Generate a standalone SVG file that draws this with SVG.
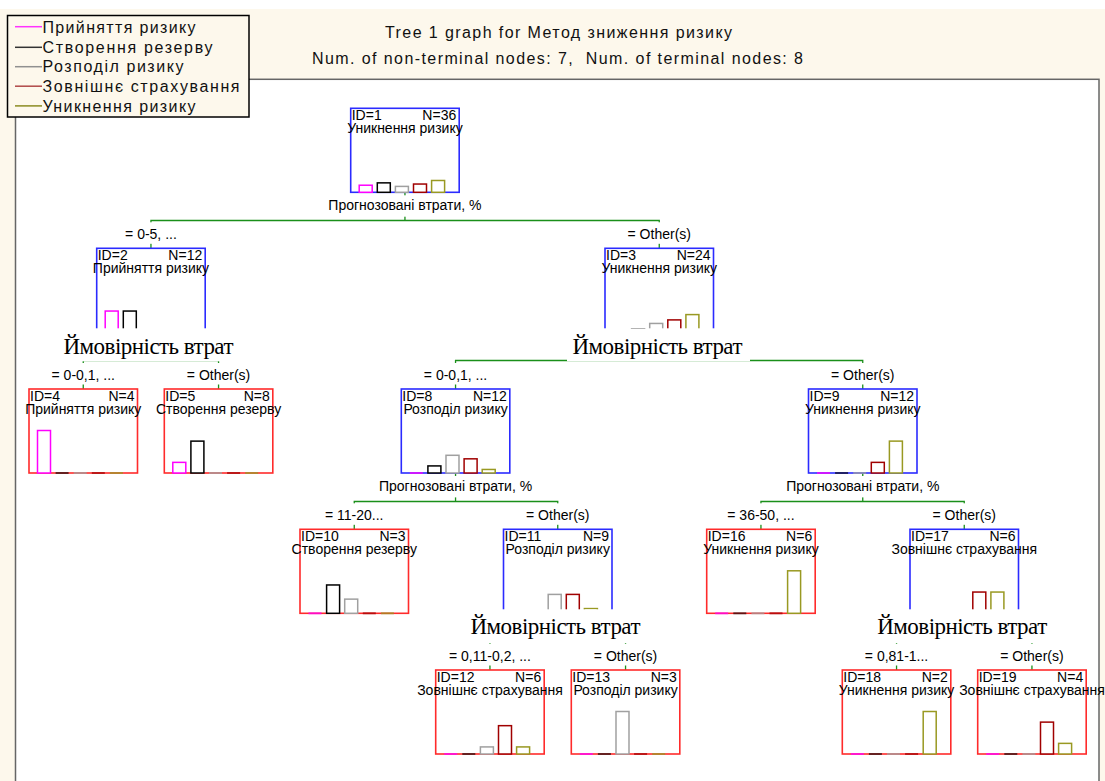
<svg xmlns="http://www.w3.org/2000/svg" width="1105" height="781" viewBox="0 0 1105 781">
<style>
.t{font-family:"Liberation Sans",Arial,sans-serif;font-size:14px;fill:#000}
.hd{font-family:"Liberation Sans",Arial,sans-serif;font-size:16px;fill:#111}
.big{font-family:"Liberation Serif","Times New Roman",serif;font-size:23px;fill:#000}
.nt{fill:#fff;stroke:#2B2BFF;stroke-width:1.6}
.tm{fill:#fff;stroke:#FF2B2B;stroke-width:1.6}
.b0{fill:#fff;stroke:#FF00FF;stroke-width:1.5}
.b1{fill:#fff;stroke:#000;stroke-width:1.5}
.b2{fill:#fff;stroke:#A0A0A0;stroke-width:1.5}
.b3{fill:#fff;stroke:#A00000;stroke-width:1.5}
.b4{fill:#fff;stroke:#999922;stroke-width:1.5}
.z0{stroke:#FF00FF;stroke-width:2;opacity:.7}
.z1{stroke:#000;stroke-width:2;opacity:.6}
.z2{stroke:#A0A0A0;stroke-width:2;opacity:.7}
.z3{stroke:#A00000;stroke-width:2;opacity:.7}
.z4{stroke:#999922;stroke-width:2;opacity:.7}
.conn path{fill:none;stroke:#1A8F1A;stroke-width:1.3}
.bg{fill:#fff}
.mid{text-anchor:middle}
.end{text-anchor:end}
</style>
<rect x="0" y="0" width="1105" height="781" fill="#fff"/>
<rect x="0" y="9" width="1105" height="772" fill="#FDF8EC"/>
<text class="hd mid" x="558.5" y="38.3" textLength="347">Tree 1 graph for Метод зниження ризику</text>
<text class="hd mid" x="557.5" y="63.5" textLength="491">Num. of non-terminal nodes: 7,&#160; Num. of terminal nodes: 8</text>
<rect x="15.5" y="79.3" width="1083.5" height="720" fill="#fff" stroke="#666" stroke-width="1.5"/>

<g id="legend">
<rect x="7.5" y="15.5" width="241.5" height="101.5" fill="#FDF8EC" stroke="#000" stroke-width="1.5"/>
<line x1="15" x2="42" y1="26.7" y2="26.7" stroke="#FF33FF" stroke-width="1.5"/>
<line x1="15" x2="42" y1="47.3" y2="47.3" stroke="#333" stroke-width="1.5"/>
<line x1="15" x2="42" y1="66.7" y2="66.7" stroke="#909090" stroke-width="1.5"/>
<line x1="15" x2="42" y1="86.2" y2="86.2" stroke="#B04848" stroke-width="1.5"/>
<line x1="15" x2="42" y1="105.9" y2="105.9" stroke="#8B8B22" stroke-width="1.5"/>
<text class="hd" x="42.5" y="33" textLength="153">Прийняття ризику</text>
<text class="hd" x="42.5" y="52.7" textLength="170">Створення резерву</text>
<text class="hd" x="42.5" y="72.3" textLength="141">Розподіл ризику</text>
<text class="hd" x="42.5" y="91.9" textLength="197">Зовнішнє страхування</text>
<text class="hd" x="42.5" y="111.5" textLength="153">Уникнення ризику</text>
</g>

<g id="connectors" class="conn">
<path d="M404.95,192.3V220.5M150.95,248.3V220.5H659.25V248.3"/>
<path d="M150.95,332.3V360.5M83.25,389V360.5H218.55V389"/>
<path d="M659.25,332.3V360.5M455.55,389V360.5H862.75V389"/>
<path d="M455.55,473V501.5M354.25,529.3V501.5H557.75V529.3"/>
<path d="M862.75,473V501.5M760.95,529.3V501.5H964.25V529.3"/>
<path d="M557.75,613.3V641.5M489.95,670V641.5H625.55V670"/>
<path d="M964.25,613.3V641.5M896.55,670V641.5H1031.95V670"/>
</g>

<g id="node1" transform="translate(350.7,108.3)">
<rect class="nt" width="108.5" height="84"/>
<text class="t" x="1" y="11.5">ID=1</text><text class="t end" x="105.5" y="11.5">N=36</text>
<text class="t mid" x="54.25" y="24.5">Уникнення ризику</text>
<rect class="b0" x="8.5" y="76.92" width="13" height="7.08"/>
<rect class="b1" x="26.6" y="74.56" width="13" height="9.44"/>
<rect class="b2" x="44.7" y="78.1" width="13" height="5.9"/>
<rect class="b3" x="62.8" y="75.74" width="13" height="8.26"/>
<rect class="b4" x="80.9" y="72.19" width="13" height="11.81"/>
</g>

<g id="node2" transform="translate(96.7,248.3)">
<rect class="nt" width="108.5" height="84"/>
<text class="t" x="1" y="11.5">ID=2</text><text class="t end" x="105.5" y="11.5">N=12</text>
<text class="t mid" x="54.25" y="24.5">Прийняття ризику</text>
<rect class="b0" x="8.5" y="62.75" width="13" height="21.25"/>
<rect class="b1" x="26.6" y="62.75" width="13" height="21.25"/>
<line class="z2" x1="44.7" x2="57.7" y1="84" y2="84"/>
<line class="z3" x1="62.8" x2="75.8" y1="84" y2="84"/>
<line class="z4" x1="80.9" x2="93.9" y1="84" y2="84"/>
</g>

<g id="node3" transform="translate(605,248.3)">
<rect class="nt" width="108.5" height="84"/>
<text class="t" x="1" y="11.5">ID=3</text><text class="t end" x="105.5" y="11.5">N=24</text>
<text class="t mid" x="54.25" y="24.5">Уникнення ризику</text>
<line class="z0" x1="8.5" x2="21.5" y1="84" y2="84"/>
<rect class="b1" x="26.6" y="80.46" width="13" height="3.54"/>
<rect class="b2" x="44.7" y="75.15" width="13" height="8.85"/>
<rect class="b3" x="62.8" y="71.6" width="13" height="12.4"/>
<rect class="b4" x="80.9" y="66.29" width="13" height="17.71"/>
</g>

<g id="node4" transform="translate(29,389)">
<rect class="tm" width="108.5" height="84"/>
<text class="t" x="1" y="11.5">ID=4</text><text class="t end" x="105.5" y="11.5">N=4</text>
<text class="t mid" x="54.25" y="24.5">Прийняття ризику</text>
<rect class="b0" x="8.5" y="41.5" width="13" height="42.5"/>
<line class="z1" x1="26.6" x2="39.6" y1="84" y2="84"/>
<line class="z2" x1="44.7" x2="57.7" y1="84" y2="84"/>
<line class="z3" x1="62.8" x2="75.8" y1="84" y2="84"/>
<line class="z4" x1="80.9" x2="93.9" y1="84" y2="84"/>
</g>

<g id="node5" transform="translate(164.3,389)">
<rect class="tm" width="108.5" height="84"/>
<text class="t" x="1" y="11.5">ID=5</text><text class="t end" x="105.5" y="11.5">N=8</text>
<text class="t mid" x="54.25" y="24.5">Створення резерву</text>
<rect class="b0" x="8.5" y="73.37" width="13" height="10.63"/>
<rect class="b1" x="26.6" y="52.12" width="13" height="31.88"/>
<line class="z2" x1="44.7" x2="57.7" y1="84" y2="84"/>
<line class="z3" x1="62.8" x2="75.8" y1="84" y2="84"/>
<line class="z4" x1="80.9" x2="93.9" y1="84" y2="84"/>
</g>

<g id="node8" transform="translate(401.3,389)">
<rect class="nt" width="108.5" height="84"/>
<text class="t" x="1" y="11.5">ID=8</text><text class="t end" x="105.5" y="11.5">N=12</text>
<text class="t mid" x="54.25" y="24.5">Розподіл ризику</text>
<line class="z0" x1="8.5" x2="21.5" y1="84" y2="84"/>
<rect class="b1" x="26.6" y="76.92" width="13" height="7.08"/>
<rect class="b2" x="44.7" y="66.29" width="13" height="17.71"/>
<rect class="b3" x="62.8" y="69.83" width="13" height="14.17"/>
<rect class="b4" x="80.9" y="80.46" width="13" height="3.54"/>
</g>

<g id="node9" transform="translate(808.5,389)">
<rect class="nt" width="108.5" height="84"/>
<text class="t" x="1" y="11.5">ID=9</text><text class="t end" x="105.5" y="11.5">N=12</text>
<text class="t mid" x="54.25" y="24.5">Уникнення ризику</text>
<line class="z0" x1="8.5" x2="21.5" y1="84" y2="84"/>
<line class="z1" x1="26.6" x2="39.6" y1="84" y2="84"/>
<line class="z2" x1="44.7" x2="57.7" y1="84" y2="84"/>
<rect class="b3" x="62.8" y="73.37" width="13" height="10.63"/>
<rect class="b4" x="80.9" y="52.12" width="13" height="31.88"/>
</g>

<g id="node10" transform="translate(300,529.3)">
<rect class="tm" width="108.5" height="84"/>
<text class="t" x="1" y="11.5">ID=10</text><text class="t end" x="105.5" y="11.5">N=3</text>
<text class="t mid" x="54.25" y="24.5">Створення резерву</text>
<line class="z0" x1="8.5" x2="21.5" y1="84" y2="84"/>
<rect class="b1" x="26.6" y="55.67" width="13" height="28.33"/>
<rect class="b2" x="44.7" y="69.83" width="13" height="14.17"/>
<line class="z3" x1="62.8" x2="75.8" y1="84" y2="84"/>
<line class="z4" x1="80.9" x2="93.9" y1="84" y2="84"/>
</g>

<g id="node11" transform="translate(503.5,529.3)">
<rect class="nt" width="108.5" height="84"/>
<text class="t" x="1" y="11.5">ID=11</text><text class="t end" x="105.5" y="11.5">N=9</text>
<text class="t mid" x="54.25" y="24.5">Розподіл ризику</text>
<line class="z0" x1="8.5" x2="21.5" y1="84" y2="84"/>
<line class="z1" x1="26.6" x2="39.6" y1="84" y2="84"/>
<rect class="b2" x="44.7" y="65.11" width="13" height="18.89"/>
<rect class="b3" x="62.8" y="65.11" width="13" height="18.89"/>
<rect class="b4" x="80.9" y="79.28" width="13" height="4.72"/>
</g>

<g id="node16" transform="translate(706.7,529.3)">
<rect class="tm" width="108.5" height="84"/>
<text class="t" x="1" y="11.5">ID=16</text><text class="t end" x="105.5" y="11.5">N=6</text>
<text class="t mid" x="54.25" y="24.5">Уникнення ризику</text>
<line class="z0" x1="8.5" x2="21.5" y1="84" y2="84"/>
<line class="z1" x1="26.6" x2="39.6" y1="84" y2="84"/>
<line class="z2" x1="44.7" x2="57.7" y1="84" y2="84"/>
<line class="z3" x1="62.8" x2="75.8" y1="84" y2="84"/>
<rect class="b4" x="80.9" y="41.5" width="13" height="42.5"/>
</g>

<g id="node17" transform="translate(910,529.3)">
<rect class="nt" width="108.5" height="84"/>
<text class="t" x="1" y="11.5">ID=17</text><text class="t end" x="105.5" y="11.5">N=6</text>
<text class="t mid" x="54.25" y="24.5">Зовнішнє страхування</text>
<line class="z0" x1="8.5" x2="21.5" y1="84" y2="84"/>
<line class="z1" x1="26.6" x2="39.6" y1="84" y2="84"/>
<line class="z2" x1="44.7" x2="57.7" y1="84" y2="84"/>
<rect class="b3" x="62.8" y="62.75" width="13" height="21.25"/>
<rect class="b4" x="80.9" y="62.75" width="13" height="21.25"/>
</g>

<g id="node12" transform="translate(435.7,670)">
<rect class="tm" width="108.5" height="84"/>
<text class="t" x="1" y="11.5">ID=12</text><text class="t end" x="105.5" y="11.5">N=6</text>
<text class="t mid" x="54.25" y="24.5">Зовнішнє страхування</text>
<line class="z0" x1="8.5" x2="21.5" y1="84" y2="84"/>
<line class="z1" x1="26.6" x2="39.6" y1="84" y2="84"/>
<rect class="b2" x="44.7" y="76.92" width="13" height="7.08"/>
<rect class="b3" x="62.8" y="55.67" width="13" height="28.33"/>
<rect class="b4" x="80.9" y="76.92" width="13" height="7.08"/>
</g>

<g id="node13" transform="translate(571.3,670)">
<rect class="tm" width="108.5" height="84"/>
<text class="t" x="1" y="11.5">ID=13</text><text class="t end" x="105.5" y="11.5">N=3</text>
<text class="t mid" x="54.25" y="24.5">Розподіл ризику</text>
<line class="z0" x1="8.5" x2="21.5" y1="84" y2="84"/>
<line class="z1" x1="26.6" x2="39.6" y1="84" y2="84"/>
<rect class="b2" x="44.7" y="41.5" width="13" height="42.5"/>
<line class="z3" x1="62.8" x2="75.8" y1="84" y2="84"/>
<line class="z4" x1="80.9" x2="93.9" y1="84" y2="84"/>
</g>

<g id="node18" transform="translate(842.3,670)">
<rect class="tm" width="108.5" height="84"/>
<text class="t" x="1" y="11.5">ID=18</text><text class="t end" x="105.5" y="11.5">N=2</text>
<text class="t mid" x="54.25" y="24.5">Уникнення ризику</text>
<line class="z0" x1="8.5" x2="21.5" y1="84" y2="84"/>
<line class="z1" x1="26.6" x2="39.6" y1="84" y2="84"/>
<line class="z2" x1="44.7" x2="57.7" y1="84" y2="84"/>
<line class="z3" x1="62.8" x2="75.8" y1="84" y2="84"/>
<rect class="b4" x="80.9" y="41.5" width="13" height="42.5"/>
</g>

<g id="node19" transform="translate(977.7,670)">
<rect class="tm" width="108.5" height="84"/>
<text class="t" x="1" y="11.5">ID=19</text><text class="t end" x="105.5" y="11.5">N=4</text>
<text class="t mid" x="54.25" y="24.5">Зовнішнє страхування</text>
<line class="z0" x1="8.5" x2="21.5" y1="84" y2="84"/>
<line class="z1" x1="26.6" x2="39.6" y1="84" y2="84"/>
<line class="z2" x1="44.7" x2="57.7" y1="84" y2="84"/>
<rect class="b3" x="62.8" y="52.12" width="13" height="31.88"/>
<rect class="b4" x="80.9" y="73.37" width="13" height="10.63"/>
</g>

<g id="split-labels">
<rect class="bg" x="326" y="195.3" width="158" height="21.4"/>
<text class="t mid" x="404.95" y="209.8">Прогнозовані втрати, %</text>
<rect class="bg" x="377" y="476" width="158" height="21.4"/>
<text class="t mid" x="455.55" y="490.5">Прогнозовані втрати, %</text>
<rect class="bg" x="784" y="476" width="158" height="21.4"/>
<text class="t mid" x="862.75" y="490.5">Прогнозовані втрати, %</text>
<rect class="bg" x="58" y="328.3" width="181" height="33"/>
<text class="big mid" x="148.5" y="354" textLength="170">Ймовірність втрат</text>
<rect class="bg" x="567" y="328.3" width="183" height="33"/>
<text class="big mid" x="657.5" y="354" textLength="170">Ймовірність втрат</text>
<rect class="bg" x="465" y="609.3" width="181" height="34"/>
<text class="big mid" x="555.5" y="633.5" textLength="170">Ймовірність втрат</text>
<rect class="bg" x="871.5" y="609.3" width="181" height="34"/>
<text class="big mid" x="962.2" y="633.5" textLength="170">Ймовірність втрат</text>
</g>

<g id="branch-labels">
<rect class="bg" x="118" y="222.3" width="66" height="21.5"/>
<text class="t mid" x="150.95" y="238.8">= 0-5, ...</text>
<rect class="bg" x="624" y="222.3" width="71" height="21.5"/>
<text class="t mid" x="659.25" y="238.8">= Other(s)</text>
<rect class="bg" x="46" y="363" width="74" height="21.5"/>
<text class="t mid" x="83.25" y="379.5">= 0-0,1, ...</text>
<rect class="bg" x="183" y="363" width="71" height="21.5"/>
<text class="t mid" x="218.55" y="379.5">= Other(s)</text>
<rect class="bg" x="418" y="363" width="74" height="21.5"/>
<text class="t mid" x="455.55" y="379.5">= 0-0,1, ...</text>
<rect class="bg" x="827" y="363" width="71" height="21.5"/>
<text class="t mid" x="862.75" y="379.5">= Other(s)</text>
<rect class="bg" x="317" y="503.3" width="74" height="21.5"/>
<text class="t mid" x="354.25" y="519.8">= 11-20...</text>
<rect class="bg" x="522" y="503.3" width="71" height="21.5"/>
<text class="t mid" x="557.75" y="519.8">= Other(s)</text>
<rect class="bg" x="720" y="503.3" width="82" height="21.5"/>
<text class="t mid" x="760.95" y="519.8">= 36-50, ...</text>
<rect class="bg" x="928" y="503.3" width="71" height="21.5"/>
<text class="t mid" x="964.25" y="519.8">= Other(s)</text>
<rect class="bg" x="444" y="644" width="92" height="21.5"/>
<text class="t mid" x="489.95" y="660.5">= 0,11-0,2, ...</text>
<rect class="bg" x="590" y="644" width="71" height="21.5"/>
<text class="t mid" x="625.55" y="660.5">= Other(s)</text>
<rect class="bg" x="859" y="644" width="76" height="21.5"/>
<text class="t mid" x="896.55" y="660.5">= 0,81-1...</text>
<rect class="bg" x="996" y="644" width="71" height="21.5"/>
<text class="t mid" x="1031.95" y="660.5">= Other(s)</text>
</g>
</svg>
